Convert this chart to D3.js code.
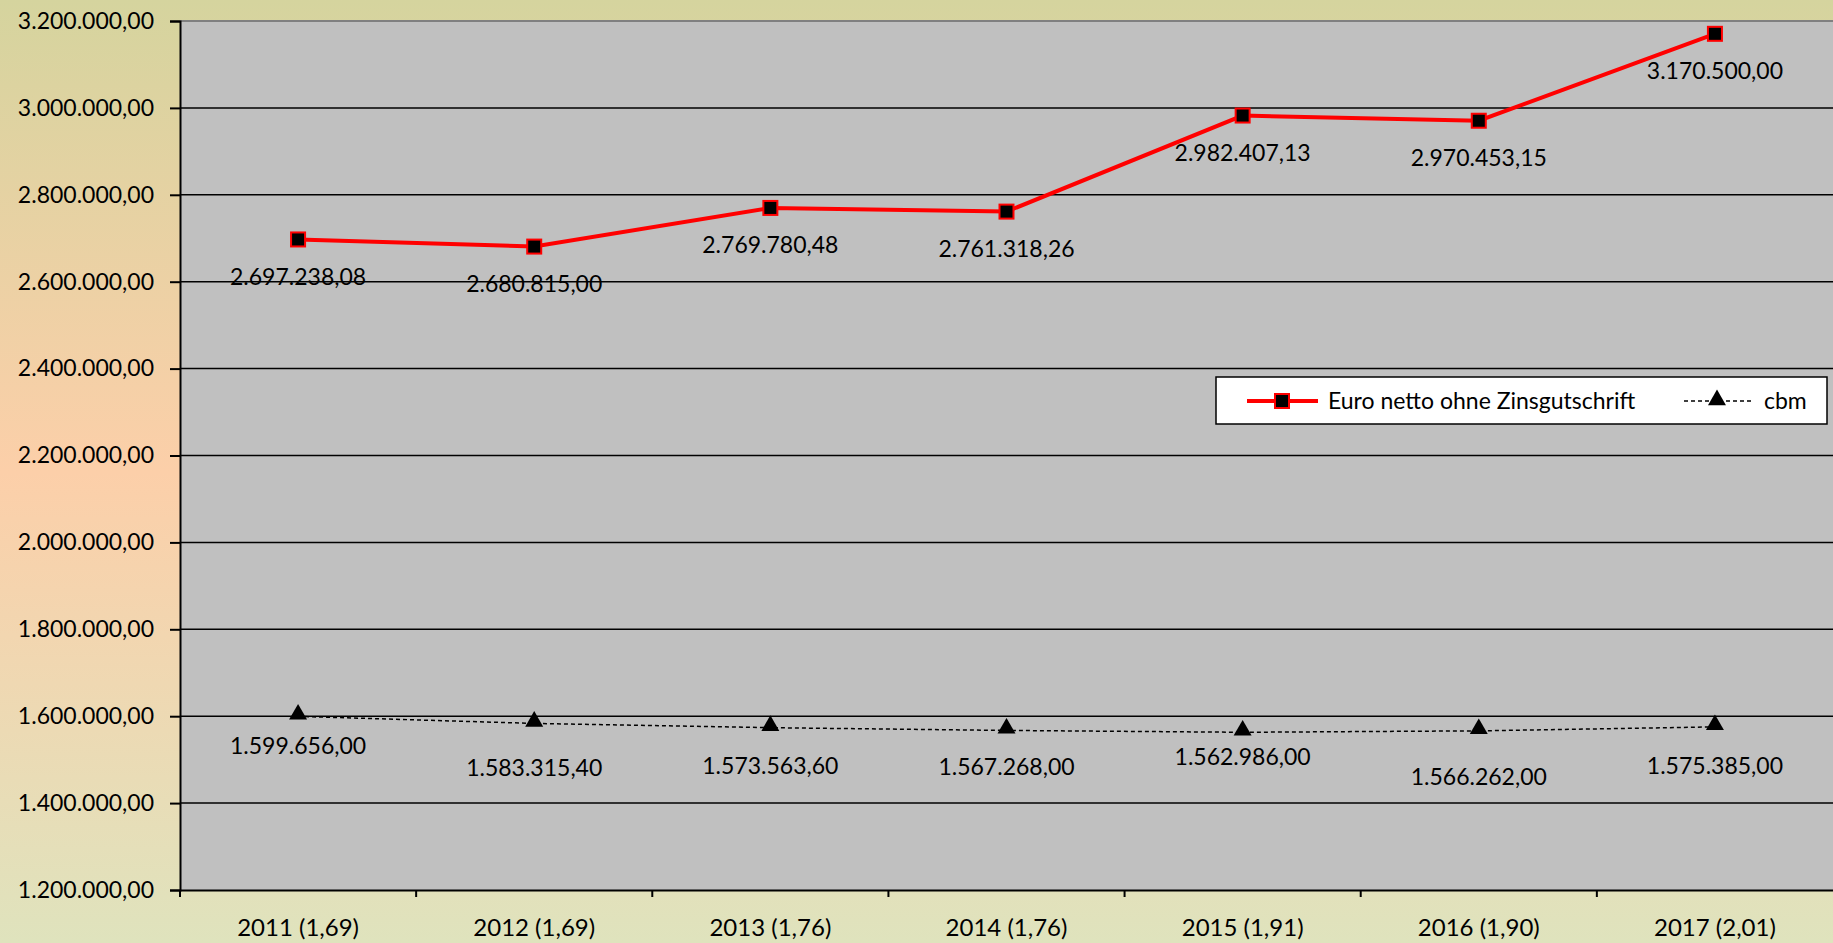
<!DOCTYPE html>
<html>
<head>
<meta charset="utf-8">
<script src="https://cdn.jsdelivr.net/npm/d3@7"></script>
<style>
  html, body { margin: 0; padding: 0; }
  body { width: 1833px; height: 943px; overflow: hidden; }
  svg text { font-family: Lato, "Open Sans", sans-serif; fill: #000; }
</style>
</head>
<body>
<div id="chart"></div>
<script>
// data
const years = ['2011 (1,69)', '2012 (1,69)', '2013 (1,76)', '2014 (1,76)', '2015 (1,91)', '2016 (1,90)', '2017 (2,01)'];
const euroValues = [2697238.08, 2680815.00, 2769780.48, 2761318.26, 2982407.13, 2970453.15, 3170500.00];
const cbmValues = [1599656.00, 1583315.40, 1573563.60, 1567268.00, 1562986.00, 1566262.00, 1575385.00];
const yTicks = [1200000, 1400000, 1600000, 1800000, 2000000, 2200000, 2400000, 2600000, 2800000, 3000000, 3200000];
const seriesNames = ['Euro netto ohne Zinsgutschrift', 'cbm'];

// label offsets below the points (cbm labels were nudged by hand in the original)
const euroLabelDy = 37;
const cbmLabelDy = [30, 45, 38, 37, 25, 46, 39];

const width = 1833, height = 943;
const margin = {top: 21, right: 0, bottom: 53, left: 180};

const de = d3.formatLocale({decimal: ',', thousands: '.', grouping: [3], currency: ['', ' €']});
const fmt = de.format(',.2f');

const svg = d3.select('#chart').append('svg')
    .attr('width', width)
    .attr('height', height);

// background gradient
let grad = svg.append('defs').append('linearGradient')
    .attr('id', 'bg')
    .attr('x1', 0).attr('y1', 0).attr('x2', 0).attr('y2', 1);
grad.append('stop').attr('offset', '0%').attr('stop-color', '#d5d49e');
grad.append('stop').attr('offset', '50%').attr('stop-color', '#fccfa9');
grad.append('stop').attr('offset', '100%').attr('stop-color', '#dfe3bd');

svg.append('rect')
    .attr('width', width).attr('height', height)
    .attr('fill', 'url(#bg)');

let x = d3.scaleBand()
    .domain(years)
    .range([margin.left, width - margin.right])
    .padding(0);

let y = d3.scaleLinear()
    .domain([1200000, 3200000])
    .range([height - margin.bottom, margin.top]);

let cx = (d) => x(d) + x.bandwidth() / 2;

// plot area
svg.append('rect')
    .attr('x', margin.left)
    .attr('y', margin.top)
    .attr('width', width - margin.left - margin.right)
    .attr('height', y(1200000) - margin.top)
    .attr('fill', '#c0c0c0');

// gridlines
svg.append('g')
    .selectAll('line')
    .data(yTicks.slice(1, -1))
    .enter().append('line')
    .attr('x1', margin.left).attr('x2', width - margin.right)
    .attr('y1', (d) => y(d)).attr('y2', (d) => y(d))
    .attr('stroke', '#000')
    .attr('stroke-width', 1.5);

// top border
svg.append('line')
    .attr('x1', margin.left).attr('x2', width)
    .attr('y1', y(3200000)).attr('y2', y(3200000))
    .attr('stroke', '#808080')
    .attr('stroke-width', 2);

// y axis
let yAxis = svg.append('g')
    .attr('transform', `translate(${margin.left},0)`)
    .call(d3.axisLeft(y).tickValues(yTicks).tickFormat(fmt).tickSize(10).tickPadding(16));
yAxis.select('.domain').attr('stroke', '#000').attr('stroke-width', 2);
yAxis.selectAll('.tick line').attr('stroke', '#000').attr('stroke-width', 2);
yAxis.selectAll('text').style('font-size', '23px').attr('fill', '#000');

// x axis
let xAxis = svg.append('g')
    .attr('transform', `translate(0,${y(1200000)})`)
    .call(d3.axisBottom(x).tickSize(0).tickPadding(29));
xAxis.select('.domain').attr('stroke', '#000').attr('stroke-width', 2);
xAxis.selectAll('text').style('font-size', '24px').attr('fill', '#000');
// tick marks between the categories
xAxis.selectAll('.sep')
    .data(years)
    .enter().append('line')
    .attr('class', 'sep')
    .attr('x1', (d) => x(d)).attr('x2', (d) => x(d))
    .attr('y1', 0).attr('y2', 7)
    .attr('stroke', '#000').attr('stroke-width', 2);

let line = d3.line()
    .x((d, i) => cx(years[i]))
    .y((d) => y(d));

// cbm series
svg.append('path')
    .datum(cbmValues)
    .attr('d', line)
    .attr('fill', 'none')
    .attr('stroke', '#000')
    .attr('stroke-width', 1.5)
    .attr('stroke-dasharray', '4,3');

let tri = d3.symbol().type(d3.symbolTriangle).size(140);
svg.append('g')
    .selectAll('path')
    .data(cbmValues)
    .enter().append('path')
    .attr('d', tri)
    .attr('transform', (d, i) => `translate(${cx(years[i])},${y(d) - 2})`)
    .attr('fill', '#000');

svg.append('g')
    .selectAll('text')
    .data(cbmValues)
    .enter().append('text')
    .attr('x', (d, i) => cx(years[i]))
    .attr('y', (d, i) => y(d) + cbmLabelDy[i])
    .attr('dy', '0.35em')
    .attr('text-anchor', 'middle')
    .style('font-size', '23px')
    .text((d) => fmt(d));

// euro series
svg.append('path')
    .datum(euroValues)
    .attr('d', line)
    .attr('fill', 'none')
    .attr('stroke', '#ff0000')
    .attr('stroke-width', 4);

svg.append('g')
    .selectAll('rect')
    .data(euroValues)
    .enter().append('rect')
    .attr('x', (d, i) => cx(years[i]) - 7)
    .attr('y', (d) => y(d) - 7)
    .attr('width', 14).attr('height', 14)
    .attr('fill', '#000')
    .attr('stroke', '#ff0000')
    .attr('stroke-width', 2);

svg.append('g')
    .selectAll('text')
    .data(euroValues)
    .enter().append('text')
    .attr('x', (d, i) => cx(years[i]))
    .attr('y', (d) => y(d) + euroLabelDy)
    .attr('dy', '0.35em')
    .attr('text-anchor', 'middle')
    .style('font-size', '23px')
    .text((d) => fmt(d));

// legend
let legend = svg.append('g').attr('transform', 'translate(1216,377)');
legend.append('rect')
    .attr('width', 611).attr('height', 47)
    .attr('fill', '#fff')
    .attr('stroke', '#000')
    .attr('stroke-width', 1.5);

legend.append('line')
    .attr('x1', 31).attr('x2', 102).attr('y1', 24).attr('y2', 24)
    .attr('stroke', '#ff0000').attr('stroke-width', 4);
legend.append('rect')
    .attr('x', 59).attr('y', 17).attr('width', 14).attr('height', 14)
    .attr('fill', '#000').attr('stroke', '#ff0000').attr('stroke-width', 2);
legend.append('text')
    .attr('x', 112).attr('y', 24).attr('dy', '0.35em')
    .style('font-size', '23px')
    .text(seriesNames[0]);

legend.append('line')
    .attr('x1', 468).attr('x2', 535).attr('y1', 24).attr('y2', 24)
    .attr('stroke', '#000').attr('stroke-width', 1.5)
    .attr('stroke-dasharray', '4,3');
legend.append('path')
    .attr('d', tri)
    .attr('transform', 'translate(501,23)')
    .attr('fill', '#000');
legend.append('text')
    .attr('x', 548).attr('y', 24).attr('dy', '0.35em')
    .style('font-size', '23px')
    .text(seriesNames[1]);
</script>
</body>
</html>
